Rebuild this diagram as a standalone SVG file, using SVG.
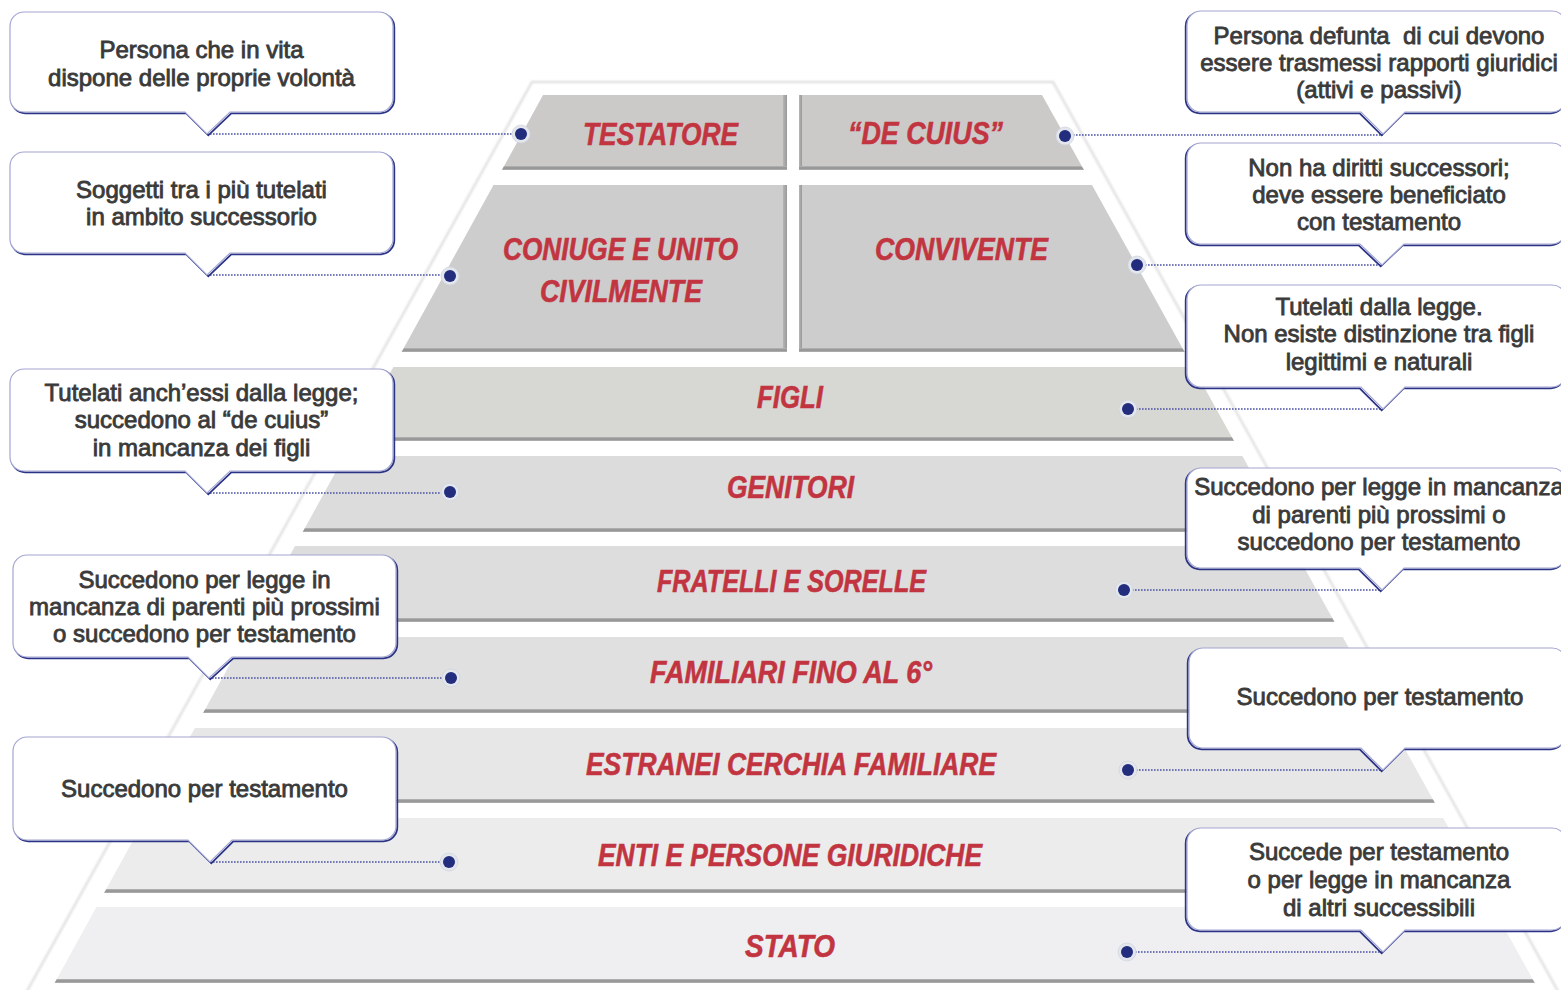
<svg xmlns="http://www.w3.org/2000/svg" width="1561" height="990" viewBox="0 0 1561 990">
  <defs>
    <style>
      .lbl{font-family:"Liberation Sans Narrow","Liberation Sans",Arial,sans-serif;font-weight:bold;font-style:italic;font-size:32px;fill:#c13440;stroke:#c13440;stroke-width:0.6px;text-anchor:middle}
      .txt{font-family:"Liberation Sans",Arial,sans-serif;font-size:24px;fill:#3a3a3a;stroke:#3a3a3a;stroke-width:0.85px;text-anchor:middle}
      .box{fill:#ffffff;stroke:#a3a6d2;stroke-width:1.2}
      .boxsh{fill:none;stroke:#2b3386;stroke-width:1.8}
      .link{fill:none;stroke:#4b52a6;stroke-width:1.6;stroke-dasharray:1.6 1.4}
      .halo{fill:#e3e7ed;stroke:#cfd4dd;stroke-width:0.8}
      .dot{fill:#222d7e}
      .shade{fill:url(#shade)}
      .vshade{fill:url(#vshade)}
      .frame{fill:#ffffff;stroke:#dadada;stroke-width:2}
    </style>
    <linearGradient id="shade" x1="0" y1="0" x2="0" y2="1">
      <stop offset="0" stop-color="#b8b8b8"/>
      <stop offset="0.5" stop-color="#8f8f8f"/>
      <stop offset="1" stop-color="#b3b3b3"/>
    </linearGradient>
    <linearGradient id="vshade" x1="0" y1="0" x2="1" y2="0">
      <stop offset="0" stop-color="#b5b5b5"/>
      <stop offset="1" stop-color="#999999"/>
    </linearGradient>
    <filter id="soft" x="-5%" y="-5%" width="110%" height="110%">
      <feGaussianBlur stdDeviation="0.8"/>
    </filter>
    <!-- callout outlines: rounded box with a pointer on the bottom edge -->
    <path id="pL1" d="M24,12 H379 A14,14 0 0 1 393,26 V98 A14,14 0 0 1 379,112 H230 L207,134 L185,112 H24 A14,14 0 0 1 10,98 V26 A14,14 0 0 1 24,12 Z"/>
    <path id="pL2" d="M24,152 H379 A14,14 0 0 1 393,166 V239 A14,14 0 0 1 379,253 H230 L207,275 L185,253 H24 A14,14 0 0 1 10,239 V166 A14,14 0 0 1 24,152 Z"/>
    <path id="pL3" d="M24,369 H379 A14,14 0 0 1 393,383 V457 A14,14 0 0 1 379,471 H230 L207,493 L185,471 H24 A14,14 0 0 1 10,457 V383 A14,14 0 0 1 24,369 Z"/>
    <path id="pL4" d="M27,555 H382 A14,14 0 0 1 396,569 V643 A14,14 0 0 1 382,657 H232 L209,678 L188,657 H27 A14,14 0 0 1 13,643 V569 A14,14 0 0 1 27,555 Z"/>
    <path id="pL5" d="M27,737 H382 A14,14 0 0 1 396,751 V826 A14,14 0 0 1 382,840 H232 L210,862 L188,840 H27 A14,14 0 0 1 13,826 V751 A14,14 0 0 1 27,737 Z"/>
    <path id="pR1" d="M1201,11 H1552 A14,14 0 0 1 1566,25 V98 A14,14 0 0 1 1552,112 H1405 L1383,134 L1361,112 H1201 A14,14 0 0 1 1187,98 V25 A14,14 0 0 1 1201,11 Z"/>
    <path id="pR2" d="M1201,143 H1552 A14,14 0 0 1 1566,157 V230 A14,14 0 0 1 1552,244 H1404 L1382,265 L1360,244 H1201 A14,14 0 0 1 1187,230 V157 A14,14 0 0 1 1201,143 Z"/>
    <path id="pR3" d="M1201,285 H1552 A14,14 0 0 1 1566,299 V373 A14,14 0 0 1 1552,387 H1405 L1383,409 L1361,387 H1201 A14,14 0 0 1 1187,373 V299 A14,14 0 0 1 1201,285 Z"/>
    <path id="pR4" d="M1201,468 H1552 A14,14 0 0 1 1566,482 V554 A14,14 0 0 1 1552,568 H1404 L1382,590 L1360,568 H1201 A14,14 0 0 1 1187,554 V482 A14,14 0 0 1 1201,468 Z"/>
    <path id="pR5" d="M1203,648 H1552 A14,14 0 0 1 1566,662 V734 A14,14 0 0 1 1552,748 H1405 L1383,770 L1361,748 H1203 A14,14 0 0 1 1189,734 V662 A14,14 0 0 1 1203,648 Z"/>
    <path id="pR6" d="M1201,828 H1552 A14,14 0 0 1 1566,842 V916 A14,14 0 0 1 1552,930 H1405 L1383,952 L1361,930 H1201 A14,14 0 0 1 1187,916 V842 A14,14 0 0 1 1201,828 Z"/>
  </defs>

  <rect width="1561" height="990" fill="#ffffff"/>

  <!-- pyramid outline -->
  <g id="pyramid-frame">
    <polygon class="frame" filter="url(#soft)" points="532,82 1053,82 1564,1002 21,1002"/>
  </g>

  <!-- tiers -->
  <g id="tier-testatore">
    <polygon fill="#ccc9c9" points="543,95 787,95 787,170 502,170"/>
    <polygon class="vshade" points="783,95 787,95 787,170 783,170"/>
    <polygon class="shade" points="504,166 787,166 787,170 502,170"/>
    <text class="lbl" x="660.5" y="145" textLength="155" lengthAdjust="spacingAndGlyphs">TESTATORE</text>
  </g>
  <g id="tier-de-cuius">
    <polygon fill="#ccc9c9" points="799,95 1042,95 1084,170 799,170"/>
    <polygon class="vshade" points="799,95 802,95 802,170 799,170"/>
    <polygon class="shade" points="799,166 1081.4,166 1084,170 799,170"/>
    <text class="lbl" x="925.5" y="144" textLength="155" lengthAdjust="spacingAndGlyphs">“DE CUIUS”</text>
  </g>
  <g id="tier-coniuge">
    <polygon fill="#cdcdcd" points="493.5,185 787,185 787,352 401.6,352"/>
    <polygon class="vshade" points="783,185 787,185 787,352 783,352"/>
    <polygon class="shade" points="404,348 787,348 787,352 401.6,352"/>
    <text class="lbl" x="620.5" y="260" textLength="235" lengthAdjust="spacingAndGlyphs">CONIUGE E UNITO</text>
    <text class="lbl" x="621" y="302" textLength="162" lengthAdjust="spacingAndGlyphs">CIVILMENTE</text>
  </g>
  <g id="tier-convivente">
    <polygon fill="#cdcdcd" points="799,185 1092,185 1184.6,352 799,352"/>
    <polygon class="vshade" points="799,185 802,185 802,352 799,352"/>
    <polygon class="shade" points="799,348 1182.4,348 1184.6,352 799,352"/>
    <text class="lbl" x="961.5" y="260" textLength="173" lengthAdjust="spacingAndGlyphs">CONVIVENTE</text>
  </g>
  <g id="tier-figli">
    <polygon fill="#d7d7d3" points="393.4,367 1193,367 1234,441 352.7,441"/>
    <polygon class="shade" points="354.9,437 1231.8,437 1234,441 352.7,441"/>
    <text class="lbl" x="790" y="408" textLength="66" lengthAdjust="spacingAndGlyphs">FIGLI</text>
  </g>
  <g id="tier-genitori">
    <polygon fill="#dcdcdc" points="344.5,456 1242.4,456 1284.5,532 302.7,532"/>
    <polygon class="shade" points="304.9,528 1282.3,528 1284.5,532 302.7,532"/>
    <text class="lbl" x="790.5" y="498" textLength="127" lengthAdjust="spacingAndGlyphs">GENITORI</text>
  </g>
  <g id="tier-fratelli">
    <polygon fill="#dddddd" points="295,546 1292.3,546 1334.5,622 253.2,622"/>
    <polygon class="shade" points="255.4,618 1332.3,618 1334.5,622 253.2,622"/>
    <text class="lbl" x="791.5" y="592" textLength="269" lengthAdjust="spacingAndGlyphs">FRATELLI E SORELLE</text>
  </g>
  <g id="tier-familiari">
    <polygon fill="#e0e0e0" points="244.9,637 1342.8,637 1385,713 203.1,713"/>
    <polygon class="shade" points="205.3,709 1382.8,709 1385,713 203.1,713"/>
    <text class="lbl" x="791" y="683" textLength="282" lengthAdjust="spacingAndGlyphs">FAMILIARI FINO AL 6°</text>
  </g>
  <g id="tier-estranei">
    <polygon fill="#e7e7e7" points="194.9,728 1393.3,728 1434.9,803 153.6,803"/>
    <polygon class="shade" points="155.8,799 1432.7,799 1434.9,803 153.6,803"/>
    <text class="lbl" x="791" y="775" textLength="410" lengthAdjust="spacingAndGlyphs">ESTRANEI CERCHIA FAMILIARE</text>
  </g>
  <g id="tier-enti">
    <polygon fill="#ececec" points="145.4,818 1443.3,818 1484.9,893 104.1,893"/>
    <polygon class="shade" points="106.3,889 1482.7,889 1484.9,893 104.1,893"/>
    <text class="lbl" x="790" y="866" textLength="384" lengthAdjust="spacingAndGlyphs">ENTI E PERSONE GIURIDICHE</text>
  </g>
  <g id="tier-stato">
    <polygon fill="#efeff2" points="96.4,907 1492.7,907 1534.8,983 54.6,983"/>
    <polygon class="shade" points="56.8,979 1532.6,979 1534.8,983 54.6,983"/>
    <text class="lbl" x="790" y="957" textLength="90" lengthAdjust="spacingAndGlyphs">STATO</text>
  </g>

  <!-- dotted leaders from each tier to its callout -->
  <g id="connectors">
    <path class="link" d="M207,134 H516"/>
    <path class="link" d="M207,275 H445"/>
    <path class="link" d="M207,493 H445"/>
    <path class="link" d="M209,678 H446"/>
    <path class="link" d="M210,862 H444"/>
    <path class="link" d="M1070,135 H1383"/>
    <path class="link" d="M1142,265 H1382"/>
    <path class="link" d="M1133,409 H1383"/>
    <path class="link" d="M1129,590 H1382"/>
    <path class="link" d="M1133,770 H1383"/>
    <path class="link" d="M1132,952 H1383"/>
    <g>
      <circle class="halo" cx="521" cy="134" r="9"/><circle class="dot" cx="521" cy="134" r="6"/>
      <circle class="halo" cx="450" cy="276" r="9"/><circle class="dot" cx="450" cy="276" r="6"/>
      <circle class="halo" cx="450" cy="492" r="9"/><circle class="dot" cx="450" cy="492" r="6"/>
      <circle class="halo" cx="451" cy="678" r="9"/><circle class="dot" cx="451" cy="678" r="6"/>
      <circle class="halo" cx="449" cy="862" r="9"/><circle class="dot" cx="449" cy="862" r="6"/>
      <circle class="halo" cx="1065" cy="136" r="9"/><circle class="dot" cx="1065" cy="136" r="6"/>
      <circle class="halo" cx="1137" cy="265" r="9"/><circle class="dot" cx="1137" cy="265" r="6"/>
      <circle class="halo" cx="1128" cy="409" r="9"/><circle class="dot" cx="1128" cy="409" r="6"/>
      <circle class="halo" cx="1124" cy="590" r="9"/><circle class="dot" cx="1124" cy="590" r="6"/>
      <circle class="halo" cx="1128" cy="770" r="9"/><circle class="dot" cx="1128" cy="770" r="6"/>
      <circle class="halo" cx="1127" cy="952" r="9"/><circle class="dot" cx="1127" cy="952" r="6"/>
    </g>
  </g>

  <!-- callouts, left column -->
  <g id="note-testatore">
    <use href="#pL1" class="boxsh" transform="translate(1.3,1.3)"/>
    <use href="#pL1" class="box"/>
    <text class="txt" x="201.5" y="58">Persona che in vita</text>
    <text class="txt" x="201.5" y="86">dispone delle proprie volontà</text>
  </g>
  <g id="note-coniuge">
    <use href="#pL2" class="boxsh" transform="translate(1.3,1.3)"/>
    <use href="#pL2" class="box"/>
    <text class="txt" x="201.5" y="198">Soggetti tra i più tutelati</text>
    <text class="txt" x="201.5" y="225">in ambito successorio</text>
  </g>
  <g id="note-genitori">
    <use href="#pL3" class="boxsh" transform="translate(1.3,1.3)"/>
    <use href="#pL3" class="box"/>
    <text class="txt" x="201.5" y="401">Tutelati anch’essi dalla legge;</text>
    <text class="txt" x="201.5" y="428">succedono al “de cuius”</text>
    <text class="txt" x="201.5" y="456">in mancanza dei figli</text>
  </g>
  <g id="note-familiari">
    <use href="#pL4" class="boxsh" transform="translate(1.3,1.3)"/>
    <use href="#pL4" class="box"/>
    <text class="txt" x="204.5" y="588">Succedono per legge in</text>
    <text class="txt" x="204.5" y="615">mancanza di parenti più prossimi</text>
    <text class="txt" x="204.5" y="642">o succedono per testamento</text>
  </g>
  <g id="note-enti">
    <use href="#pL5" class="boxsh" transform="translate(1.3,1.3)"/>
    <use href="#pL5" class="box"/>
    <text class="txt" x="204.5" y="797">Succedono per testamento</text>
  </g>

  <!-- callouts, right column -->
  <g id="note-de-cuius">
    <use href="#pR1" class="boxsh" transform="translate(-1.3,1.3)"/>
    <use href="#pR1" class="box"/>
    <text class="txt" x="1379" y="44">Persona defunta&#160; di cui devono</text>
    <text class="txt" x="1379" y="71">essere trasmessi rapporti giuridici</text>
    <text class="txt" x="1379" y="98">(attivi e passivi)</text>
  </g>
  <g id="note-convivente">
    <use href="#pR2" class="boxsh" transform="translate(-1.3,1.3)"/>
    <use href="#pR2" class="box"/>
    <text class="txt" x="1379" y="176">Non ha diritti successori;</text>
    <text class="txt" x="1379" y="203">deve essere beneficiato</text>
    <text class="txt" x="1379" y="230">con testamento</text>
  </g>
  <g id="note-figli">
    <use href="#pR3" class="boxsh" transform="translate(-1.3,1.3)"/>
    <use href="#pR3" class="box"/>
    <text class="txt" x="1379" y="315">Tutelati dalla legge.</text>
    <text class="txt" x="1379" y="342">Non esiste distinzione tra figli</text>
    <text class="txt" x="1379" y="370">legittimi e naturali</text>
  </g>
  <g id="note-fratelli">
    <use href="#pR4" class="boxsh" transform="translate(-1.3,1.3)"/>
    <use href="#pR4" class="box"/>
    <text class="txt" x="1379" y="495">Succedono per legge in mancanza</text>
    <text class="txt" x="1379" y="523">di parenti più prossimi o</text>
    <text class="txt" x="1379" y="550">succedono per testamento</text>
  </g>
  <g id="note-estranei">
    <use href="#pR5" class="boxsh" transform="translate(-1.3,1.3)"/>
    <use href="#pR5" class="box"/>
    <text class="txt" x="1380" y="705">Succedono per testamento</text>
  </g>
  <g id="note-stato">
    <use href="#pR6" class="boxsh" transform="translate(-1.3,1.3)"/>
    <use href="#pR6" class="box"/>
    <text class="txt" x="1379" y="860">Succede per testamento</text>
    <text class="txt" x="1379" y="888">o per legge in mancanza</text>
    <text class="txt" x="1379" y="916">di altri successibili</text>
  </g>
</svg>
